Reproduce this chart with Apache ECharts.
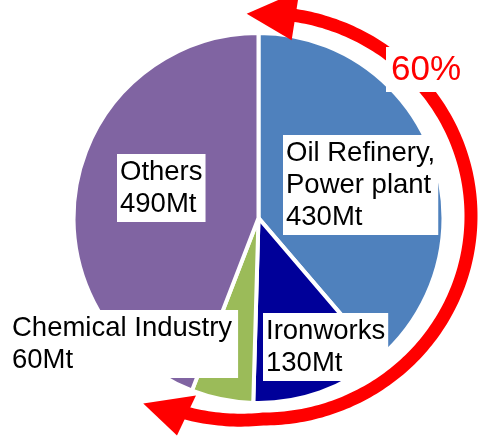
<!DOCTYPE html>
<html>
<head>
<meta charset="utf-8">
<script src="https://cdn.jsdelivr.net/npm/echarts@6/dist/echarts.min.js"></script>
<style>
  html, body { margin: 0; padding: 0; background: #fff; }
  #chart { width: 479px; height: 443px; }
</style>
</head>
<body>
<div id="chart"></div>
<script>
// data
const categories = ['Oil Refinery,\nPower plant', 'Ironworks', 'Chemical Industry', 'Others']
const emissions = [430, 130, 60, 490]
const colors = ['#4F81BD', '#000099', '#9BBB59', '#8064A2']
const shareText = '60%'

// label box top-left corners (px)
const labelBoxes = [[283, 135], [263, 313], [8, 310], [117, 154]]

const chart = echarts.init(document.getElementById('chart'))

// circular arrow around the pie
const cx = 263, cy = 216, rx = 208, ry = 203
function pt(deg, dr) {
  const a = deg * Math.PI / 180
  return [cx + (rx + dr) * Math.cos(a), cy + (ry + dr) * Math.sin(a)]
}
const shaft = []
for (let d = -82; d <= 111; d += 1) {
  const dr = d > 90 ? (d - 90) / 21 * 8 : 0
  shaft.push(pt(d, dr))
}
const headTop = [pt(-94.5, 0), pt(-81, -25), pt(-81, 25)]
const headBottom = [pt(122, 18), pt(110, -12), pt(111, 32)]

const option = {
  backgroundColor: '#fff',
  animation: false,
  series: [
    {
      type: 'pie',
      center: [258.5, 218],
      radius: 185,
      startAngle: 90,
      clockwise: true,
      silent: true,
      itemStyle: { borderColor: '#fff', borderWidth: 4 },
      label: {
        show: true,
        position: 'inside',
        formatter: p => p.name + '\n' + p.value + 'Mt',
        fontFamily: 'Liberation Sans',
        fontSize: 27.5,
        lineHeight: 32,
        color: '#000',
        backgroundColor: '#fff',
        padding: [2, 3],
        align: 'left'
      },
      labelLine: { show: false },
      labelLayout: params => {
        const b = labelBoxes[params.dataIndex]
        return { x: b[0], y: b[1], align: 'left', verticalAlign: 'top' }
      },
      data: categories.map((name, i) => ({
        name,
        value: emissions[i],
        itemStyle: { color: colors[i] },
        label: i === 2 ? { padding: [2, 6, 2, 4] } : {}
      }))
    }
  ],
  graphic: [
    {
      type: 'polyline',
      z: 10,
      shape: { points: shaft },
      style: { stroke: '#FF0000', lineWidth: 13, fill: null }
    },
    {
      type: 'polygon',
      z: 10,
      shape: { points: headTop },
      style: { fill: '#FF0000' }
    },
    {
      type: 'polygon',
      z: 10,
      shape: { points: headBottom },
      style: { fill: '#FF0000' }
    },
    {
      type: 'rect',
      z: 20,
      shape: { x: 386, y: 47, width: 80, height: 45 },
      style: { fill: '#fff' }
    },
    {
      type: 'text',
      z: 21,
      x: 426,
      y: 70,
      style: {
        text: shareText,
        fill: '#FF0000',
        font: '35px "Liberation Sans"',
        align: 'center',
        verticalAlign: 'middle'
      }
    }
  ]
}

chart.setOption(option)
</script>
</body>
</html>
